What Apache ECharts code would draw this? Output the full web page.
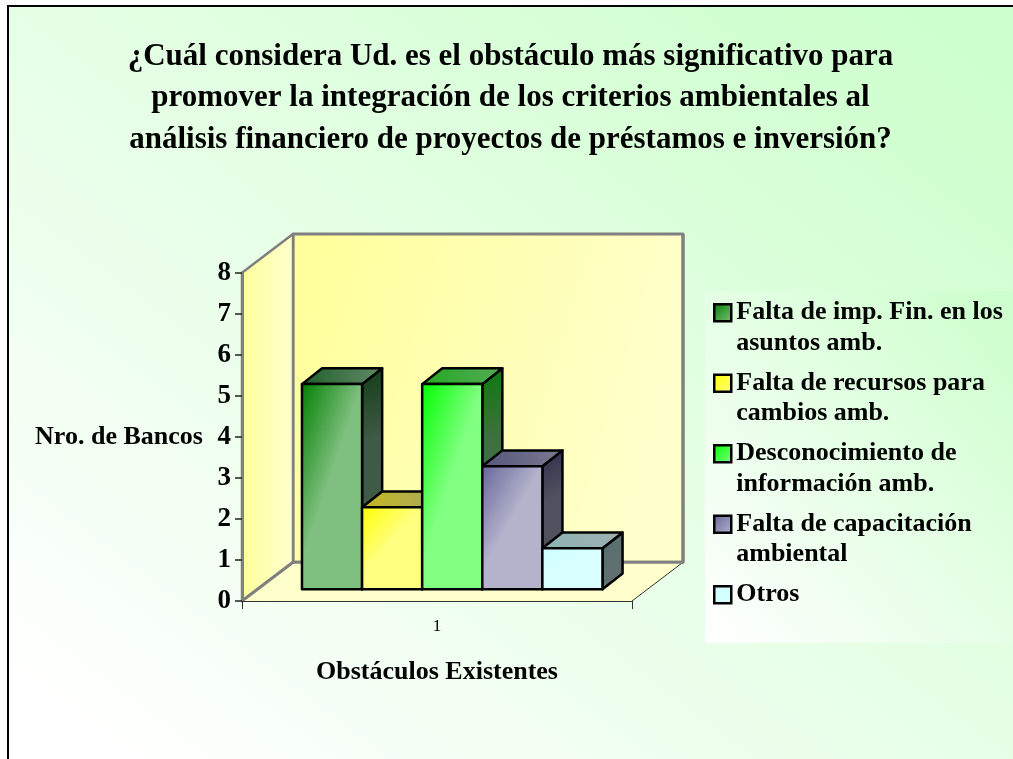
<!DOCTYPE html>
<html><head><meta charset="utf-8">
<style>html,body{margin:0;padding:0;background:#fff}#c{width:1013px;height:759px}</style>
<script src="https://cdn.jsdelivr.net/npm/echarts@6/dist/echarts.min.js"></script>
</head><body><div id="c"></div>
<script>
const titleLines = ['¿Cuál considera Ud. es el obstáculo más significativo para','promover la integración de los criterios ambientales al','análisis financiero de proyectos de préstamos e inversión?'];
const categories = ['1'];
const seriesNames = ['Falta de imp. Fin. en los\nasuntos amb.','Falta de recursos para\ncambios amb.','Desconocimiento de\ninformación amb.','Falta de capacitación\nambiental','Otros'];
const seriesValues = [5, 2, 5, 3, 1];
const yAxisName = 'Nro. de Bancos';
const xAxisName = 'Obstáculos Existentes';

const faceColors = [['#008000','#7fbf7f'],['#ffff00','#ffff80'],['#00ff00','#80ff80'],['#666699','#b3b3cc'],['#ccffff','#d9ffff']];
const topColors  = [['#1f5f2c','#628a66'],['#c4b820','#aaa860'],['#22aa22','#55aa55'],['#55557c','#7a7a90'],['#8cb4b4','#a0b0b0']];
const sideColors = [['#103c16','#3f5a45'],['#808000','#808040'],['#0c7a0c','#3f7040'],['#2e2e4e','#50505e'],['#4f7070','#607070']];

const grad = (x,y,x2,y2,c)=>({type:'linear',x,y,x2,y2,colorStops:[{offset:0,color:c[0]},{offset:1,color:c[1]}]});
const MAX_Y = 8;
// 3D geometry, as fractions of the category band / of one y unit
const WALL_DX = 0.1308, WALL_DY = 0.944;
const BAR_START = 0.1538, BAR_W = 0.1541, BAR_DX = 0.0515, BAR_DY = 0.385, BAR_LIFT = 0.285;

function poly(points, fill, stroke, lineWidth){
  return {type:'polygon',shape:{points},style:{fill,stroke,lineWidth,lineJoin:'round'},silent:true};
}
function renderWalls(params, api){
  const band = api.size([1,0])[0], unit = api.size([0,1])[1];
  const c0 = api.coord([0,0]), c8 = api.coord([0,MAX_Y]);
  const L = c0[0]-band/2, R = L+band, B = c0[1], T = c8[1];
  const dx = band*WALL_DX, dy = unit*WALL_DY;
  const gray = '#808080';
  return {type:'group',children:[
    poly([[L+dx,T-dy],[R+dx,T-dy],[R+dx,B-dy],[L+dx,B-dy]], grad(0,0,1,0.35,['#ffff99','#ffffcc']), gray, 3),
    poly([[L,T],[L+dx,T-dy],[L+dx,B-dy],[L,B]], grad(0,0,1,0,['#ffff99','#ffffd0']), gray, 2.5),
    poly([[L,B],[L+dx,B-dy],[R+dx,B-dy],[R,B]], '#ffffcc', null, 0),
    {type:'line',shape:{x1:R,y1:B,x2:R+dx,y2:B-dy},style:{stroke:'#333',lineWidth:1},silent:true},
    {type:'line',shape:{x1:L,y1:B,x2:L+dx,y2:B-dy},style:{stroke:gray,lineWidth:3},silent:true},
    {type:'line',shape:{x1:L+dx,y1:B-dy,x2:R+dx,y2:B-dy},style:{stroke:gray,lineWidth:3},silent:true},
    {type:'line',shape:{x1:R+dx,y1:T-dy,x2:R+dx,y2:B-dy},style:{stroke:gray,lineWidth:3},silent:true}
  ]};
}
function makeBar(idx){
  return function(params, api){
    const band = api.size([1,0])[0], unit = api.size([0,1])[1];
    const c0 = api.coord([0,0]), cv = api.coord([0,api.value(1)]);
    const lift = unit*BAR_LIFT;
    const x0 = c0[0]-band/2+band*(BAR_START+BAR_W*idx), w = band*BAR_W;
    const yB = c0[1]-lift, yT = cv[1]-lift, h = yB-yT;
    const dx = band*BAR_DX, dy = unit*BAR_DY;
    const hh = 0.83*h, n = Math.hypot(hh,w), p = w*hh/n;
    const fg = grad(0,0,(p*hh/n)/w,(p*w/n)/h,faceColors[idx]);
    return {type:'group',children:[
      poly([[x0+w,yT],[x0+w+dx,yT-dy],[x0+w+dx,yB-dy],[x0+w,yB]], grad(0,0,1,0.3,sideColors[idx]), '#000', 2.5),
      poly([[x0,yT],[x0+dx,yT-dy],[x0+w+dx,yT-dy],[x0+w,yT]], grad(0,0,1,0.3,topColors[idx]), '#000', 2.5),
      poly([[x0,yT],[x0+w,yT],[x0+w,yB],[x0,yB]], fg, '#000', 2.5)
    ]};
  };
}
const SERIF = '"Liberation Serif","Times New Roman",serif';
const option = {
  animation:false,
  backgroundColor:'#fff',
  textStyle:{fontFamily:SERIF},
  graphic:{elements:[
    {type:'rect',z:-10,silent:true,shape:{x:8,y:6,width:1010,height:760},
     style:{fill:{type:'linear',global:true,x:8,y:759,x2:731,y2:-206,colorStops:[{offset:0,color:'#ffffff'},{offset:0.04,color:'#ffffff'},{offset:0.96,color:'#ccffcc'},{offset:1,color:'#ccffcc'}]},stroke:'#000',lineWidth:2}},
    {type:'rect',z:-9,silent:true,shape:{x:705,y:291,width:308,height:352},
     style:{fill:{type:'linear',global:true,x:705,y:643,x2:1053,y2:340,colorStops:[{offset:0,color:'#ffffff'},{offset:1,color:'#ccffcc'}]}}}
  ]},
  title:{text:titleLines.join('\n'),left:505.5,top:31,textAlign:'center',
    textStyle:{fontFamily:SERIF,fontWeight:'bold',fontSize:31,lineHeight:41.5,color:'#000'}},
  grid:{left:242,top:272.7,width:390,height:328.3,containLabel:false},
  legend:{left:705,top:267,orient:'vertical',selectedMode:false,padding:[0,0,0,8],
    itemWidth:17,itemHeight:17,itemGap:-21,
    formatter:name=>'\n'+name+(name.indexOf('\n')<0?'\n':''),
    textStyle:{fontFamily:SERIF,fontWeight:'bold',fontSize:26,lineHeight:30.5,color:'#000'},
    data:seriesNames.map((name,i)=>({name,icon:'rect',itemStyle:{color:grad(0,0,1,1,faceColors[i]),borderColor:'#000',borderWidth:2.5}}))
  },
  xAxis:{type:'category',data:categories,boundaryGap:true,
    name:xAxisName,nameLocation:'middle',nameGap:58,
    nameTextStyle:{fontFamily:SERIF,fontWeight:'bold',fontSize:26,color:'#000'},
    axisLine:{lineStyle:{color:'#333',width:1}},
    axisTick:{show:true,alignWithLabel:false,length:8,lineStyle:{color:'#333',width:1}},
    axisLabel:{fontFamily:SERIF,fontSize:17,color:'#000',margin:17},
    splitLine:{show:false}},
  yAxis:{type:'value',min:0,max:MAX_Y,interval:1,
    name:yAxisName,nameLocation:'middle',nameRotate:0,nameGap:123,
    nameTextStyle:{fontFamily:SERIF,fontWeight:'bold',fontSize:26,color:'#000',align:'center',padding:[4,0,0,0]},
    axisLine:{show:true,lineStyle:{color:'#808080',width:3}},
    axisTick:{show:true,length:7,lineStyle:{color:'#222',width:1.5}},
    axisLabel:{fontFamily:SERIF,fontWeight:'bold',fontSize:27,color:'#000',margin:11},
    splitLine:{show:false}},
  series:[
    {type:'custom',name:'walls',z:-1,silent:true,renderItem:renderWalls,data:[[0,MAX_Y]],clip:false,encode:{x:0,y:1}},
    ...seriesNames.map((name,i)=>({type:'custom',name,z:2+i,silent:true,clip:false,renderItem:makeBar(i),
      itemStyle:{color:faceColors[i][0]},data:[[0,seriesValues[i]]],encode:{x:0,y:1}}))
  ]
};
echarts.init(document.getElementById('c'),null,{renderer:'canvas'}).setOption(option);
</script></body></html>
